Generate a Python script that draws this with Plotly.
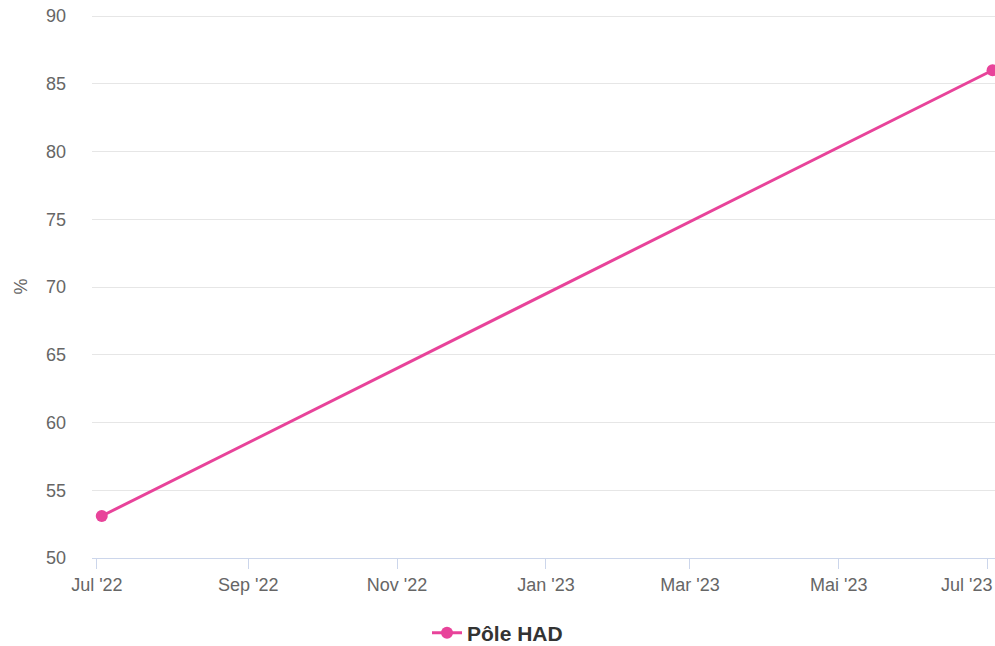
import plotly.graph_objects as go

dates = ["2022-07-03", "2023-07-03"]
values = [53.1, 86.0]
series_name = "Pôle HAD"

x_tick_vals = ["2022-07-01", "2022-09-01", "2022-11-01", "2023-01-01",
               "2023-03-01", "2023-05-01", "2023-07-01"]
x_tick_text = ["Jul '22", "Sep '22", "Nov '22", "Jan '23", "Mar '23", "Mai '23", "Jul '23"]
y_ticks = [50, 55, 60, 65, 70, 75, 80, 85, 90]

pink = "#e8439a"
font_family = "Liberation Sans, Arial, sans-serif"
x_range = ["2022-06-29", "2023-07-04"]

fig = go.Figure()
fig.add_trace(go.Scatter(
    x=dates, y=values, name=series_name, mode="lines+markers",
    line=dict(color=pink, width=3),
    marker=dict(color=pink, size=12),
    cliponaxis=False,
))
# invisible companion trace so the overlay axis (last label, shifted inward) is drawn
fig.add_trace(go.Scatter(
    x=dates, y=values, xaxis="x2", mode="lines", opacity=0,
    line=dict(width=0), showlegend=False, hoverinfo="skip",
))

fig.update_layout(
    width=995, height=646,
    margin=dict(l=92, r=0, t=15, b=88, autoexpand=False),
    plot_bgcolor="white", paper_bgcolor="white",
    font=dict(family=font_family, color="#666666", size=18),
    showlegend=True,
    legend=dict(orientation="h", xref="container", x=0.5, xanchor="center",
                yref="container", y=0.02, yanchor="middle",
                font=dict(size=21, color="#333333", family=font_family, weight="bold")),
    xaxis=dict(
        type="date",
        range=x_range,
        tickvals=x_tick_vals, ticktext=x_tick_text[:-1] + [""],
        showgrid=False, showline=True, linecolor="#ccd6eb", linewidth=1,
        ticks="outside", ticklen=10, tickcolor="#ccd6eb", tickwidth=1,
        tickfont=dict(size=18, color="#666666"),
        zeroline=False, automargin=False,
    ),
    xaxis2=dict(
        type="date", overlaying="x", anchor="y", side="bottom",
        range=x_range, matches="x",
        tickvals=x_tick_vals[-1:], ticktext=x_tick_text[-1:],
        showgrid=False, showline=False, zeroline=False,
        ticks="outside", ticklen=10, tickcolor="rgba(0,0,0,0)",
        ticklabelshift=-21,
        tickfont=dict(size=18, color="#666666"),
        automargin=False,
    ),
    yaxis=dict(
        range=[50, 90.08], tickvals=y_ticks,
        showgrid=True, gridcolor="#e6e6e6", gridwidth=1,
        showline=False, zeroline=False,
        ticklabelstandoff=25,
        tickfont=dict(size=18, color="#666666"),
        title=dict(text="%", font=dict(size=18, color="#666666"), standoff=13),
        automargin=False,
    ),
)

fig.write_html(
    "out.html",
    config={"displayModeBar": False},
    post_script="document.body.style.margin='0';document.body.style.overflow='hidden';",
)
